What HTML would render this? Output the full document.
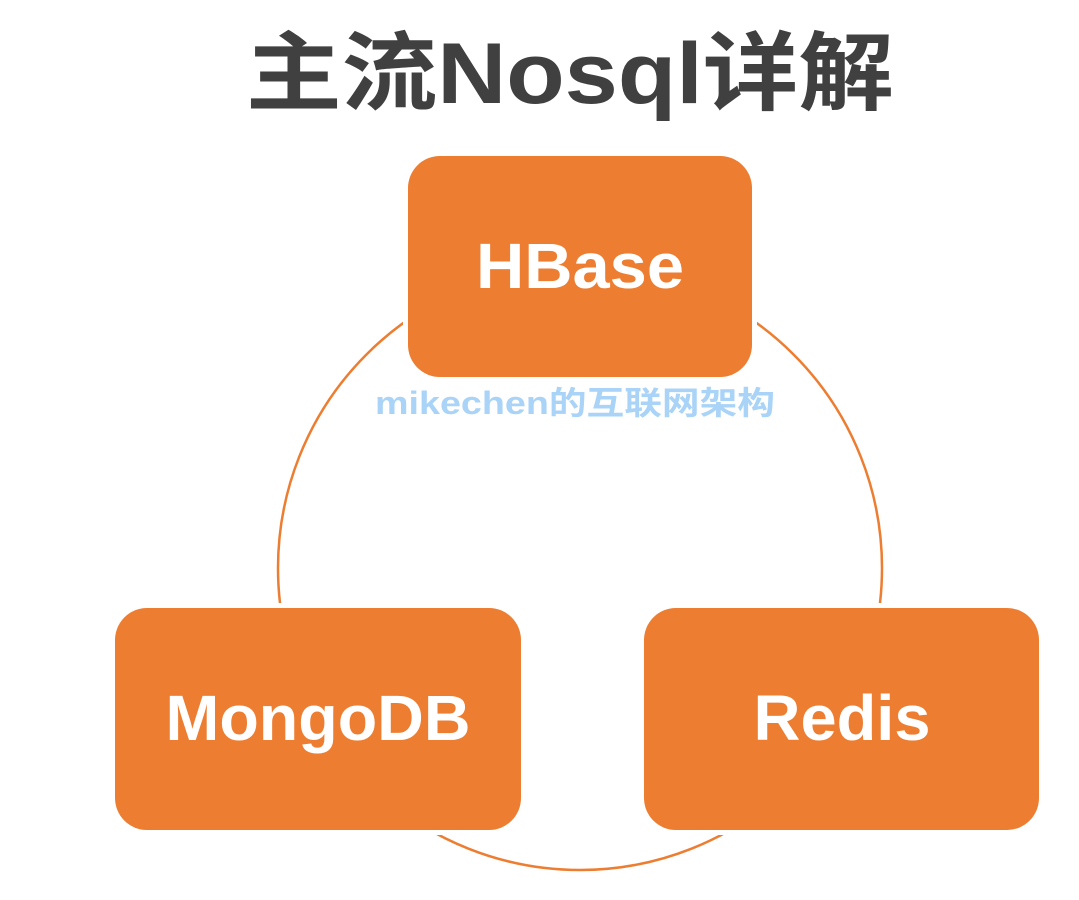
<!DOCTYPE html>
<html><head><meta charset="utf-8"><style>
html,body{margin:0;padding:0;background:#fff;width:1079px;height:900px;overflow:hidden}
</style></head><body>
<svg width="1079" height="900" xmlns="http://www.w3.org/2000/svg">
<rect width="1079" height="900" fill="#fff"/>
<text x="570" y="103" text-anchor="middle" textLength="648" lengthAdjust="spacingAndGlyphs" font-family="'Liberation Sans','Noto Sans CJK SC',sans-serif" font-weight="bold" font-size="86" fill="#404040">主流Nosql详解</text>
<circle cx="580" cy="568" r="302" fill="none" stroke="#ED7D31" stroke-width="2.5"/>
<rect x="408" y="156" width="344" height="221" rx="32" fill="#ED7D31" stroke="#fff" stroke-width="10"/>
<rect x="115" y="608" width="406" height="222" rx="32" fill="#ED7D31" stroke="#fff" stroke-width="10"/>
<rect x="644" y="608" width="395" height="222" rx="32" fill="#ED7D31" stroke="#fff" stroke-width="10"/>
<rect x="408" y="156" width="344" height="221" rx="32" fill="#ED7D31"/>
<rect x="115" y="608" width="406" height="222" rx="32" fill="#ED7D31"/>
<rect x="644" y="608" width="395" height="222" rx="32" fill="#ED7D31"/>
<g font-family="'Liberation Sans',sans-serif" font-weight="bold" font-size="64" fill="#fff" text-anchor="middle" lengthAdjust="spacingAndGlyphs">
<text x="580" y="288" textLength="208" lengthAdjust="spacingAndGlyphs">HBase</text>
<text x="318" y="740" textLength="305" lengthAdjust="spacingAndGlyphs">MongoDB</text>
<text x="842" y="740" textLength="177" lengthAdjust="spacingAndGlyphs">Redis</text>
</g>
<text x="575" y="414" text-anchor="middle" textLength="400" lengthAdjust="spacingAndGlyphs" font-family="'Liberation Sans','Noto Sans CJK SC',sans-serif" font-weight="bold" font-size="32" fill="#a9d3f7">mikechen的互联网架构</text>
</svg>
</body></html>
